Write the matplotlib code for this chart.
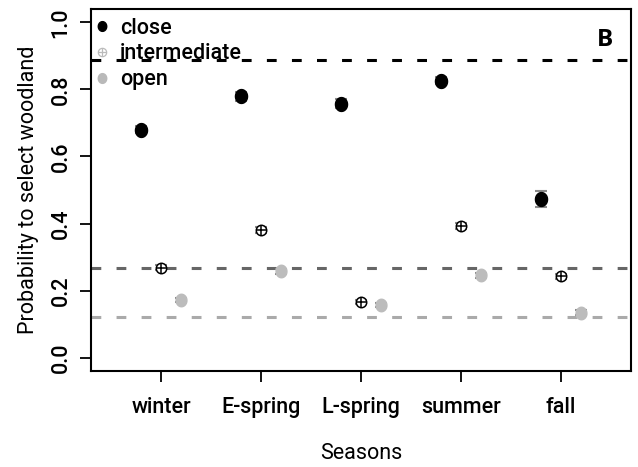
import numpy as np
import matplotlib
matplotlib.use("Agg")
import matplotlib.pyplot as plt
from matplotlib.path import Path
from matplotlib.lines import Line2D
from matplotlib.legend_handler import HandlerTuple

plt.rcParams['font.family'] = ['Roboto', 'Liberation Sans', 'DejaVu Sans']
plt.rcParams['font.weight'] = 'medium'

seasons = ["winter", "E-spring", "L-spring", "summer", "fall"]
close_vals = [0.680, 0.779, 0.758, 0.826, 0.472]
close_err = [0.010, 0.012, 0.014, 0.011, 0.024]
inter_vals = [0.268, 0.380, 0.166, 0.392, 0.242]
inter_err = [0.008, 0.009, 0.007, 0.009, 0.008]
open_vals = [0.172, 0.257, 0.157, 0.245, 0.134]
open_err = [0.007, 0.008, 0.007, 0.008, 0.007]
ref_lines = [0.887, 0.268, 0.121]
ref_colors = ["black", "#666666", "#aaaaaa"]
yticks = [0.0, 0.2, 0.4, 0.6, 0.8, 1.0]

# ellipse marker (taller than wide)
t = np.linspace(0, 2 * np.pi, 60)
ell = Path(np.column_stack([np.cos(t) * 0.87, np.sin(t)]), closed=True)

fig = plt.figure(figsize=(6.38, 4.67), dpi=100)
ax = fig.add_axes([0.1426, 0.2056, 0.8464, 0.7751])

x = np.arange(1, len(seasons) + 1)

for yv, c in zip(ref_lines, ref_colors):
    ax.axhline(yv, color=c, lw=2.2, dashes=(3.2, 5.0), zorder=1)

ecol = "#8a8a8a"
ax.errorbar(x - 0.2, close_vals, yerr=close_err, fmt='none', ecolor=ecol,
            elinewidth=1.2, capsize=4, capthick=1.5, zorder=2)
ax.errorbar(x, inter_vals, yerr=inter_err, fmt='none', ecolor=ecol,
            elinewidth=1.2, capsize=4, capthick=1.5, zorder=2)
ax.errorbar(x + 0.2, open_vals, yerr=open_err, fmt='none', ecolor=ecol,
            elinewidth=1.2, capsize=4, capthick=1.5, zorder=2)

ax.plot(x - 0.2, close_vals, ls='none', marker=ell, ms=10, color='black', zorder=3)
ax.plot(x, inter_vals, ls='none', marker='o', ms=7.5, mfc='white', mec='black',
        mew=1.1, zorder=3)
ax.plot(x, inter_vals, ls='none', marker='+', ms=7.5, mec='black', mew=1.1, zorder=4)
ax.plot(x + 0.2, open_vals, ls='none', marker=ell, ms=9, color='#bcbcbc', zorder=3)

fs = 15.5
ax.set_xlim(0.3, 5.7)
ax.set_ylim(-0.04, 1.04)
ax.set_xticks(x)
ax.set_xticklabels(seasons, fontsize=fs)
ax.set_yticks(yticks)
ax.set_yticklabels([f"{v:.1f}" for v in yticks], fontsize=fs, rotation=90, va='center')
ax.tick_params(axis='both', length=8, width=1.3, color='black')
ax.tick_params(axis='x', pad=11)
ax.tick_params(axis='y', pad=6)
for s in ax.spines.values():
    s.set_linewidth(1.5)

ax.set_xlabel("Seasons", fontsize=fs, labelpad=18)
ax.set_ylabel("Probability to select woodland", fontsize=fs, labelpad=8)

h_close = Line2D([], [], ls='none', marker=ell, ms=7, color='black')
h_i1 = Line2D([], [], ls='none', marker='o', ms=6, mfc='white', mec='#bbbbbb', mew=0.9)
h_i2 = Line2D([], [], ls='none', marker='+', ms=6, mec='#bbbbbb', mew=0.9)
h_open = Line2D([], [], ls='none', marker=ell, ms=7, color='#b9b9b9')
ax.legend([h_close, (h_i1, h_i2), h_open], ["close", "intermediate", "open"],
          handler_map={tuple: HandlerTuple(ndivide=1, pad=0)},
          loc='upper left', bbox_to_anchor=(-0.012, 1.0), frameon=False,
          fontsize=fs, handlelength=0.8, handletextpad=0.45, labelspacing=0.22,
          borderaxespad=0.0)

ax.text(0.967, 0.915, "B", transform=ax.transAxes, fontsize=17.5, fontweight='bold',
        family=['Open Sans', 'DejaVu Sans'], ha='right', va='center')

fig.savefig("out.png", dpi=100)
